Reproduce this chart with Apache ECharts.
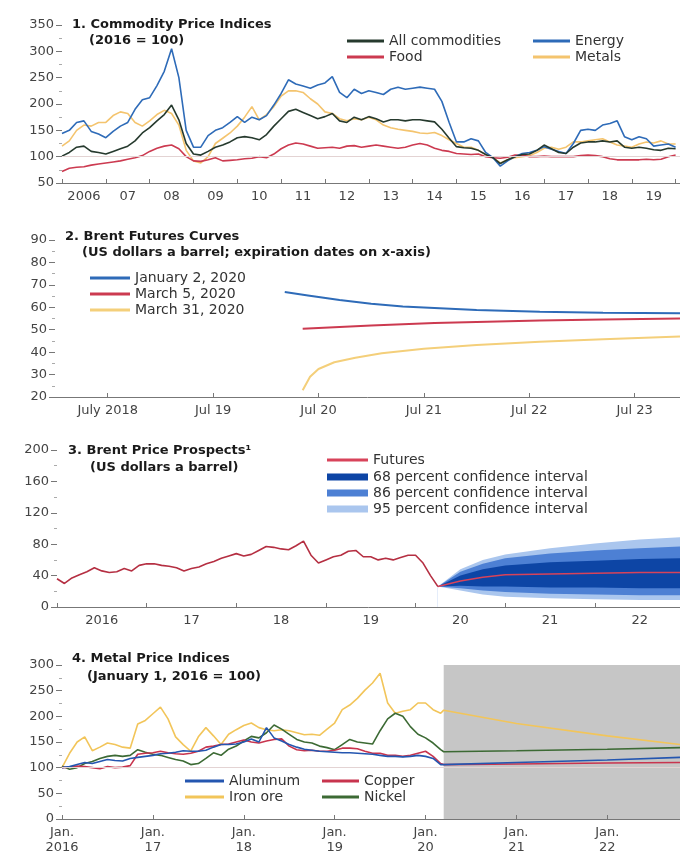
<!DOCTYPE html>
<html>
<head>
<meta charset="utf-8">
<style>
html, body { margin: 0; padding: 0; background: #fff; }
#chart { width: 680px; height: 855px; }
</style>
<script src="https://cdn.jsdelivr.net/npm/echarts@6/dist/echarts.min.js"></script>
</head>
<body>
<div id="chart"></div>
<script>
// ---- panel 1: commodity price indices, every 2 months from Jan 2006 ----
const p1Years = ['2006', '07', '08', '09', '10', '11', '12', '13', '14', '15', '16', '17', '18', '19'];
const allCommodities = [101, 108, 118, 120, 110, 108, 105, 110, 115, 120, 130, 145, 155, 168, 180, 198, 170, 125,
  105, 103, 110, 118, 122, 128, 136, 138, 136, 132, 142, 158, 172, 186, 190, 184, 178, 172,
  176, 182, 168, 165, 175, 170, 176, 172, 166, 170, 170, 168, 170, 170, 168, 166, 152, 135,
  119, 117, 116, 112, 104, 98, 87, 94, 100, 104, 105, 112, 122, 115, 108, 106, 118, 126,
  128, 128, 130, 128, 130, 118, 116, 118, 116, 113, 112, 116, 115];
const energy = [144, 150, 165, 168, 148, 143, 136, 148, 158, 165, 190, 208, 212, 235, 262, 305, 250, 150,
  118, 118, 140, 150, 155, 165, 176, 165, 175, 170, 178, 198, 220, 246, 238, 234, 230, 236,
  240, 252, 222, 212, 228, 220, 225, 222, 218, 228, 232, 228, 230, 232, 230, 228, 205, 165,
  128, 128, 134, 130, 108, 98, 82, 92, 100, 106, 108, 112, 119, 114, 110, 106, 125, 150,
  152, 150, 160, 163, 168, 138, 132, 138, 134, 120, 122, 124, 118];
const food = [72, 78, 80, 81, 84, 86, 88, 90, 92, 95, 98, 102, 110, 116, 120, 122, 115, 100,
  92, 91, 94, 98, 92, 93, 94, 96, 97, 100, 98, 105, 115, 122, 126, 124, 120, 116,
  117, 118, 116, 120, 121, 118, 120, 122, 120, 118, 116, 118, 122, 125, 122, 116, 112, 110,
  106, 105, 104, 105, 100, 98, 97, 99, 103, 103, 100, 100, 101, 100, 100, 100, 100, 102,
  103, 102, 100, 96, 94, 94, 94, 94, 95, 94, 95, 100, 103];
const metals = [120, 130, 150, 160, 158, 165, 165, 178, 185, 182, 165, 158, 168, 180, 188, 182, 160, 112,
  92, 88, 100, 125, 135, 145, 158, 175, 195, 170, 180, 195, 215, 225, 225, 222, 210, 200,
  185, 182, 172, 168, 172, 170, 175, 170, 160, 155, 152, 150, 148, 145, 144, 146, 140, 132,
  125, 118, 118, 112, 104, 98, 88, 94, 98, 100, 102, 108, 116, 118, 114, 118, 128, 128,
  130, 132, 134, 128, 122, 120, 118, 124, 128, 126, 130, 124, 124];

// ---- panel 2: Brent futures curves (dates as decimal years) ----
const p2Labels = ['July 2018', 'Jul 19', 'Jul 20', 'Jul 21', 'Jul 22', 'Jul 23'];
const jan2Dates = [2020.18, 2020.4, 2020.7, 2021.0, 2021.3, 2021.65, 2022.0, 2022.6, 2023.2, 2023.93];
const jan2Curve = [66.8, 65.3, 63.2, 61.6, 60.4, 59.6, 58.8, 58.0, 57.6, 57.3];
const mar5Dates = [2020.35, 2020.7, 2021.0, 2021.6, 2022.2, 2022.6, 2023.2, 2023.93];
const mar5Curve = [50.4, 51.2, 51.9, 53.0, 53.7, 54.1, 54.6, 55.0];
const mar31Dates = [2020.35, 2020.42, 2020.5, 2020.65, 2020.85, 2021.1, 2021.5, 2022.0, 2022.6, 2023.2, 2023.93];
const mar31Curve = [23, 29, 32.5, 35.5, 37.5, 39.5, 41.5, 43.2, 44.6, 45.8, 47];

// ---- panel 3: Brent price prospects, monthly from Jan 2016 ----
const p3Years = ['2016', '17', '18', '19', '20', '21', '22'];
const brent = [36, 30, 37, 41, 45, 50, 46, 44, 45, 49, 46, 53,
  55, 55, 53, 52, 50, 46, 49, 51, 55, 58, 62, 65,
  68, 65, 67, 72, 77, 76, 74, 73, 78, 84, 66, 56,
  60, 64, 66, 71, 72, 64, 64, 60, 62, 60, 63, 66,
  66, 56, 40, 26];
const fanDates = [2020.25, 2020.5, 2020.75, 2021.0, 2021.5, 2022.0, 2022.5, 2022.95];
const futures = [26, 33, 38, 41, 42, 43, 44, 44];
const ci68Low = [26, 27, 26, 26, 25, 25, 24, 24];
const ci68High = [26, 40, 48, 53, 57, 59, 61, 62];
const ci86Low = [26, 24, 21, 19, 17, 16, 15, 15];
const ci86High = [26, 45, 55, 62, 68, 72, 75, 77];
const ci95Low = [26, 21, 16, 13, 11, 10, 9, 9];
const ci95High = [26, 48, 60, 67, 75, 81, 86, 89];

// ---- panel 4: metal price indices, monthly from Jan 2016, then projections ----
const p4Labels = ['Jan.\n2016', 'Jan.\n17', 'Jan.\n18', 'Jan.\n19', 'Jan.\n20', 'Jan.\n21', 'Jan.\n22'];
const aluminum = [100, 102, 106, 110, 108, 112, 116, 114, 113, 118, 120, 122,
  124, 127, 128, 130, 133, 132, 132, 134, 140, 145, 145, 146,
  150, 156, 150, 178, 158, 152, 145, 140, 136, 134, 132, 131,
  130, 129, 129, 128, 127, 126, 124, 122, 122, 121, 122, 124,
  122, 118, 106];
const copper = [100, 101, 103, 102, 100, 98, 102, 100, 101, 104, 126, 128,
  129, 132, 129, 127, 126, 128, 132, 140, 142, 145, 146, 150,
  154, 150, 148, 152, 155, 156, 142, 135, 133, 134, 132, 132,
  134, 138, 138, 137, 132, 128, 128, 124, 124, 122, 124, 128,
  132, 122, 108];
const ironOre = [100, 128, 150, 160, 133, 140, 148, 145, 140, 138, 185, 192,
  205, 218, 195, 160, 145, 132, 160, 178, 162, 145, 165, 174,
  182, 187, 178, 174, 172, 174, 172, 168, 164, 165, 163, 175,
  187, 213, 222, 235, 251, 265, 284, 226, 206, 210, 213, 226,
  226, 213, 206];
const nickel = [103, 97, 100, 108, 112, 118, 122, 124, 122, 124, 135, 130,
  126, 124, 120, 116, 113, 106, 108, 118, 129, 124, 136, 142,
  152, 161, 158, 168, 183, 175, 165, 155, 150, 148, 142, 139,
  135, 145, 155, 150, 148, 146, 172, 195, 206, 200, 180, 165,
  158, 148, 135];
const projDates = [2020.2, 2021.0, 2022.0, 2022.8];
const aluminumProj = [106, 110, 115, 120];
const copperProj = [106, 107, 109, 110];
const ironOreProj = [212, 186, 162, 145];
const nickelProj = [131, 133, 136, 139];

const font = 'DejaVu Sans';
const labelColor = '#444';
const axisColor = '#777';

// pair values with decimal-year positions
const byMonth = (start, step, arr) => arr.map((v, i) => [start + (i * step) / 12, v]);
const byDate = (dates, arr) => arr.map((v, i) => [dates[i], v]);

function xAxis(gridIndex, min, max, ticks, labels, fmt) {
  return {
    type: 'value', gridIndex, min, max, z: 5,
    splitLine: { show: false },
    axisLine: { onZero: false, lineStyle: { color: axisColor, width: 1 } },
    axisTick: { inside: true, length: 4, customValues: ticks, lineStyle: { color: axisColor } },
    axisLabel: { customValues: labels, formatter: fmt, color: labelColor, fontSize: 13, fontFamily: font, margin: 6, lineHeight: 15 }
  };
}
function yAxis(gridIndex, min, max, interval) {
  return {
    type: 'value', gridIndex, min, max, interval,
    splitLine: { show: false },
    axisLine: { show: false },
    axisTick: { show: true, length: 6, lineStyle: { color: axisColor } },
    minorTick: { show: true, splitNumber: 2, length: 3, lineStyle: { color: '#aaa' } },
    axisLabel: { color: labelColor, fontSize: 13, fontFamily: font, margin: 8 }
  };
}
function line(name, idx, color, data, width) {
  return {
    name, type: 'line', xAxisIndex: idx, yAxisIndex: idx, data, color,
    symbol: 'none', lineStyle: { width: width || 1.6, color }
  };
}
// fan bands: each edge filled down to the axis, painted from the outside in
function band(name, color, data) {
  return {
    name, type: 'line', xAxisIndex: 2, yAxisIndex: 2, data, color, z: 1,
    symbol: 'none', lineStyle: { width: 0 }, areaStyle: { color, opacity: 1, origin: 'start' }
  };
}
const refLine = idx => ({
  type: 'line', xAxisIndex: idx, yAxisIndex: idx, data: [], z: 1,
  markLine: { silent: true, symbol: 'none', label: { show: false },
    lineStyle: { color: '#e3d3d3', width: 1, type: 'solid' }, data: [{ yAxis: 100 }] }
});

const range = (a, b, s) => { const r = []; for (let v = a; v <= b + 1e-9; v += s) r.push(v); return r; };

const titleStyle = { fontSize: 13, fontWeight: 'bold', color: '#1a1a1a', fontFamily: font };
const legendStyle = { fontSize: 14, color: '#333', fontFamily: font };
const legendBase = { orient: 'vertical', padding: 0, itemGap: 2, itemHeight: 3, itemWidth: 37, icon: 'rect', textStyle: legendStyle, selectedMode: false };

const ci68 = '68 percent confidence interval';
const ci86 = '86 percent confidence interval';
const ci95 = '95 percent confidence interval';

const option = {
  animation: false,
  backgroundColor: '#fff',
  title: [
    { text: '1. Commodity Price Indices', left: 72, top: 18, padding: 0, textStyle: titleStyle },
    { text: '(2016 = 100)', left: 89, top: 34, padding: 0, textStyle: titleStyle },
    { text: '2. Brent Futures Curves', left: 65, top: 230, padding: 0, textStyle: titleStyle },
    { text: '(US dollars a barrel; expiration dates on x-axis)', left: 82, top: 246, padding: 0, textStyle: titleStyle },
    { text: '3. Brent Price Prospects\u00b9', left: 68, top: 444, padding: 0, textStyle: titleStyle },
    { text: '(US dollars a barrel)', left: 90, top: 461, padding: 0, textStyle: titleStyle },
    { text: '4. Metal Price Indices', left: 72, top: 652, padding: 0, textStyle: titleStyle },
    { text: '(January 1, 2016 = 100)', left: 87, top: 670, padding: 0, textStyle: titleStyle }
  ],
  legend: [
    Object.assign({}, legendBase, { left: 347, top: 34, data: ['All commodities', 'Food'] }),
    Object.assign({}, legendBase, { left: 533, top: 34, data: ['Energy', 'Metals'] }),
    Object.assign({}, legendBase, { left: 90, top: 271, itemWidth: 40, data: ['January 2, 2020', 'March 5, 2020', 'March 31, 2020'] }),
    Object.assign({}, legendBase, { left: 327, top: 453, itemWidth: 41, data: ['Futures'] }),
    Object.assign({}, legendBase, { left: 327, top: 470, itemWidth: 41, itemHeight: 7, data: [ci68, ci86, ci95] }),
    Object.assign({}, legendBase, { left: 185, top: 774, itemWidth: 39, data: ['Aluminum', 'Iron ore'] }),
    Object.assign({}, legendBase, { left: 322, top: 774, itemWidth: 37, data: ['Copper', 'Nickel'] })
  ],
  grid: [
    { left: 62, right: 0, top: 25, height: 158 },
    { left: 55, right: 0, top: 240, height: 157 },
    { left: 57, right: 0, top: 450, height: 157 },
    { left: 62, right: 0, top: 665, height: 155 }
  ],
  xAxis: [
    xAxis(0, 2006, 2020.1, range(2006, 2020, 1), range(2006.5, 2019.5, 1), v => p1Years[Math.floor(v) - 2006]),
    xAxis(1, 2018, 2023.93, range(2018.5, 2023.5, 1), range(2018.5, 2023.5, 1), v => p2Labels[Math.floor(v) - 2018]),
    xAxis(2, 2016, 2022.95, range(2016, 2022, 1), range(2016.5, 2022.5, 1), v => p3Years[Math.floor(v) - 2016]),
    xAxis(3, 2016, 2022.8, range(2016, 2022, 1), range(2016, 2022, 1), v => p4Labels[Math.round(v) - 2016])
  ],
  yAxis: [
    yAxis(0, 50, 350, 50),
    yAxis(1, 20, 90, 10),
    yAxis(2, 0, 200, 40),
    yAxis(3, 0, 300, 50)
  ],
  series: [
    refLine(0),
    line('Metals', 0, '#f4c46e', byMonth(2006, 2, metals)),
    line('Food', 0, '#cc3a50', byMonth(2006, 2, food)),
    line('Energy', 0, '#2e6bb8', byMonth(2006, 2, energy)),
    line('All commodities', 0, '#263a2e', byMonth(2006, 2, allCommodities)),

    line('January 2, 2020', 1, '#2e6bb8', byDate(jan2Dates, jan2Curve), 2),
    line('March 5, 2020', 1, '#cc3a50', byDate(mar5Dates, mar5Curve), 2),
    line('March 31, 2020', 1, '#f4cf7a', byDate(mar31Dates, mar31Curve), 2),

    band(ci95, '#aac6ee', byDate(fanDates, ci95High)),
    band(ci86, '#4d80d4', byDate(fanDates, ci86High)),
    band(ci68, '#0d45a5', byDate(fanDates, ci68High)),
    band(ci86, '#4d80d4', byDate(fanDates, ci68Low)),
    band(ci95, '#aac6ee', byDate(fanDates, ci86Low)),
    band('lower edge', '#ffffff', byDate(fanDates, ci95Low)),
    line('Futures', 2, '#d8435a', byDate(fanDates, futures), 1.5),
    line('Brent', 2, '#b52f42', byMonth(2016, 1, brent), 1.6),

    { type: 'line', xAxisIndex: 3, yAxisIndex: 3, data: [], z: 0,
      markArea: { silent: true, itemStyle: { color: '#c6c6c6' }, data: [[{ xAxis: 2020.2 }, { xAxis: 2022.8 }]] } },
    refLine(3),
    line('Iron ore', 3, '#f2c55a', byMonth(2016, 1, ironOre).concat(byDate(projDates, ironOreProj))),
    line('Nickel', 3, '#3c6a34', byMonth(2016, 1, nickel).concat(byDate(projDates, nickelProj))),
    line('Copper', 3, '#c8344e', byMonth(2016, 1, copper).concat(byDate(projDates, copperProj))),
    line('Aluminum', 3, '#2456b0', byMonth(2016, 1, aluminum).concat(byDate(projDates, aluminumProj)))
  ]
};

const chart = echarts.init(document.getElementById('chart'));
chart.setOption(option);
window.addEventListener('resize', () => chart.resize());
</script>
</body>
</html>
